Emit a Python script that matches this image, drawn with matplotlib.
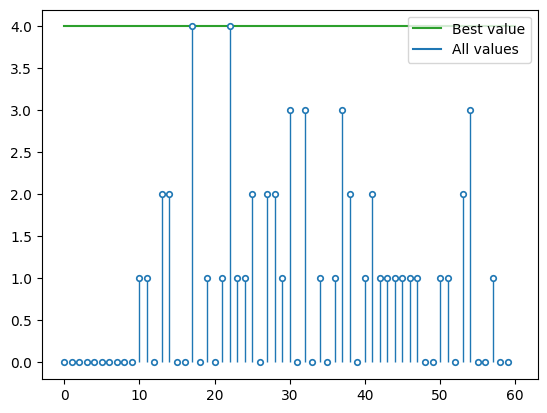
import matplotlib
matplotlib.use("Agg")
import matplotlib.pyplot as plt
from matplotlib.lines import Line2D

# values for each iteration
values = [0, 0, 0, 0, 0, 0, 0, 0, 0, 0,
          1, 1, 0, 2, 2, 0, 0, 4, 0, 1,
          0, 1, 4, 1, 1, 2, 0, 2, 2, 1,
          3, 0, 3, 0, 1, 0, 1, 3, 2, 0,
          1, 2, 1, 1, 1, 1, 1, 1, 0, 0,
          1, 1, 0, 2, 3, 0, 0, 1, 0, 0]
iterations = list(range(len(values)))
best_value = max(values)

fig, ax = plt.subplots(figsize=(6.4, 4.8), dpi=100)

# best value line runs over the full iteration count
ax.plot([0, len(values)], [best_value, best_value],
        color='tab:green', zorder=1)
markerline, stemlines, baseline = ax.stem(iterations, values, basefmt=' ')
stemlines.set_linewidth(1)
markerline.set_markersize(4)
markerline.set_markerfacecolor('white')
markerline.set_markeredgewidth(1.2)
markerline.set_zorder(3)

handles = [Line2D([], [], color='tab:green'),
           Line2D([], [], color='tab:blue')]
ax.legend(handles, ['Best value', 'All values'], loc='upper right')

fig.savefig('out.png', bbox_inches='tight')
